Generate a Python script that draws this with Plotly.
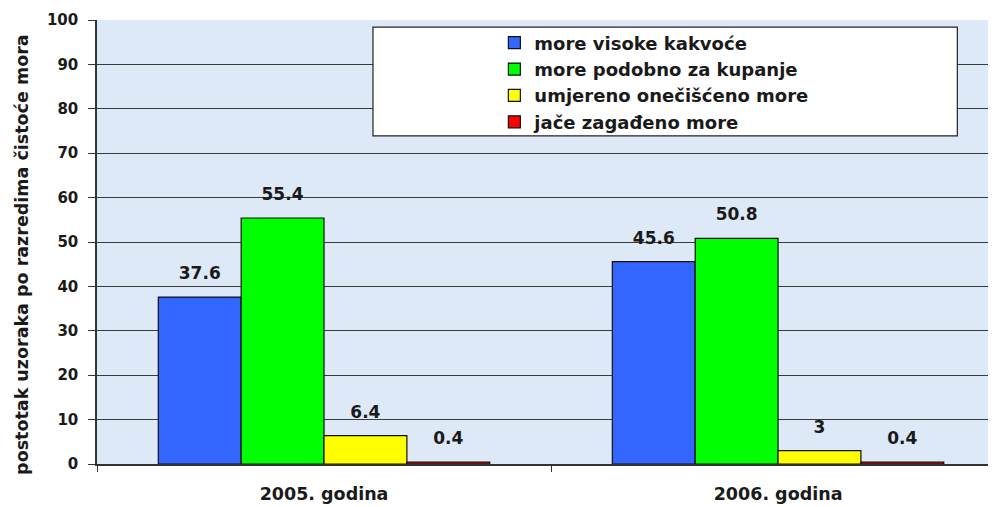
import plotly.graph_objects as go

categories = ["2005. godina", "2006. godina"]
series_names = ["more visoke kakvoće", "more podobno za kupanje",
                "umjereno onečišćeno more", "jače zagađeno more"]
values_high = [37.6, 45.6]
values_bathing = [55.4, 50.8]
values_moderate = [6.4, 3]
values_polluted = [0.4, 0.4]
labels_high = ["37.6", "45.6"]
labels_bathing = ["55.4", "50.8"]
labels_moderate = ["6.4", "3"]
labels_polluted = ["0.4", "0.4"]
y_title = "postotak uzoraka po razredima čistoće mora"
colors = ["#3366ff", "#00ff00", "#ffff00", "#ff0000"]

FONT = "DejaVu Sans, Arial, sans-serif"
INK = "#1a1a1a"

fig = go.Figure()
for name, vals, labs, col in zip(series_names,
                                 [values_high, values_bathing, values_moderate, values_polluted],
                                 [labels_high, labels_bathing, labels_moderate, labels_polluted],
                                 colors):
    fig.add_trace(go.Bar(
        x=categories, y=vals, name=name, text=labs,
        texttemplate="<span style='font-size:17px'>%{text}</span><br> ",
        textposition="outside", cliponaxis=False,
        textfont=dict(family=FONT, size=10, color=INK, weight="bold"),
        marker=dict(color=col, line=dict(color="#111111", width=1.2)),
    ))

fig.update_layout(
    width=988, height=499,
    margin=dict(l=89, r=0, t=12, b=43),
    paper_bgcolor="white",
    plot_bgcolor="#dde9f6",
    barmode="group",
    bargap=0.27,
    bargroupgap=0,
    showlegend=True,
    legend=dict(x=0.442, y=0.99, xanchor="left", yanchor="top",
                bgcolor="rgba(0,0,0,0)", borderwidth=0,
                font=dict(family=FONT, size=18, color=INK, weight="bold"),
                tracegroupgap=0, itemwidth=30),
    shapes=[dict(type="rect", xref="paper", yref="paper",
                 x0=0.307, x1=0.957, y0=0.739, y1=0.984,
                 fillcolor="white", line=dict(color="#222222", width=1.2),
                 layer="above")],
    annotations=[dict(text=y_title, xref="paper", yref="paper",
                      x=-0.0834, y=0.471, xanchor="center", yanchor="middle",
                      textangle=-90, showarrow=False,
                      font=dict(family=FONT, size=17.5, color=INK, weight="bold"))],
    font=dict(family=FONT, color=INK),
)
fig.update_xaxes(range=[-0.5, 1.48], tickson="boundaries", ticks="outside",
                 ticklen=6, tickcolor="#333333", showline=True,
                 linecolor="#333333", linewidth=1.5, showgrid=False,
                 automargin=False, ticklabelstandoff=13,
                 tickfont=dict(family=FONT, size=17.5, color=INK, weight="bold"))
fig.update_yaxes(range=[0, 100], dtick=10, ticks="outside", ticklen=7,
                 tickcolor="#333333", showline=True, linecolor="#333333",
                 linewidth=1.5, gridcolor="#3a3a3a", gridwidth=1.3,
                 zeroline=False, automargin=False, ticklabelstandoff=7,
                 tickfont=dict(family=FONT, size=15, color=INK, weight="bold"))

fig.write_html("out.html")
